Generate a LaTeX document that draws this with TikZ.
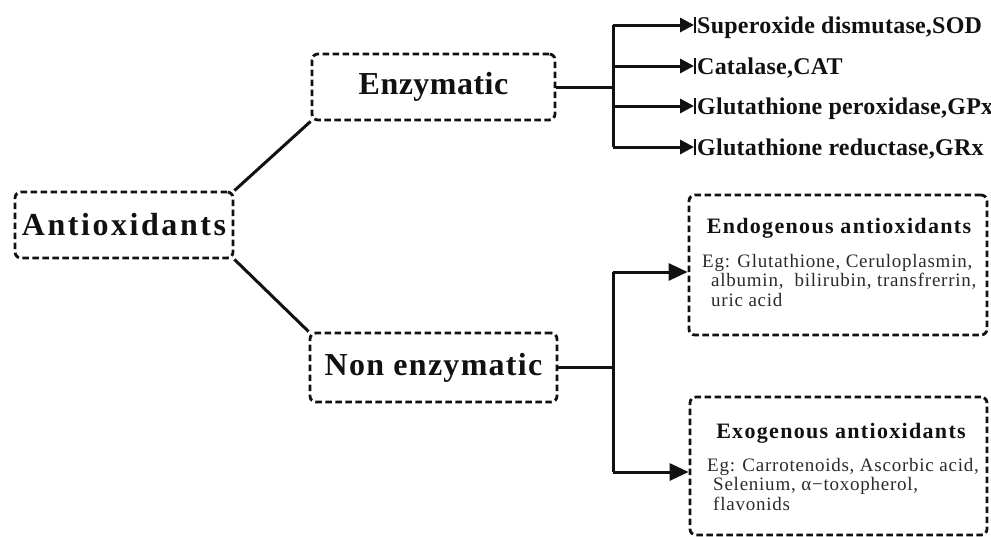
\documentclass[tikz,border=0pt]{standalone}
\usepackage{fontspec}
\setmainfont{Liberation Serif}
\newfontfamily\bigfont[LetterSpace=4]{Liberation Serif}
\newfontfamily\antifont[LetterSpace=8]{Liberation Serif}
\newfontfamily\enzfont[LetterSpace=1.5]{Liberation Serif}
\newfontfamily\listfont[LetterSpace=1]{Liberation Serif}
\newfontfamily\subfont[LetterSpace=6]{Liberation Serif}
\newfontfamily\bodyfont[LetterSpace=4]{Liberation Serif}
\usetikzlibrary{arrows.meta}
\definecolor{ink}{HTML}{111111}
\definecolor{bodyink}{HTML}{2A2A2A}
\begin{document}
\begin{tikzpicture}[x=1pt,y=-1pt,
  dbox/.style={draw=ink, line width=2.8pt, dash pattern=on 6.5pt off 3.5pt, rounded corners=6pt, inner sep=0pt},
  conn/.style={draw=ink, line width=3pt},
  tri/.style={conn, -{Triangle[length=19pt,width=17pt]}},
  smalltri/.style={conn, -{Triangle[length=14pt,width=14pt]}},
  barline/.style={draw=ink, line width=2.6pt},
  item/.style={anchor=west, inner sep=0pt, text height=22pt, text depth=6pt, text=ink,
    font=\listfont\fontsize{24}{28}\selectfont\bfseries},
  subtitle/.style={anchor=base, inner sep=0pt, text=ink,
    font=\subfont\fontsize{22}{26}\selectfont\bfseries},
  bodyline/.style={anchor=base west, inner sep=0pt, text=bodyink,
    font=\bodyfont\fontsize{19}{19.5}\selectfont}
]
\useasboundingbox (0,0) rectangle (991,536);

% main boxes
\node[dbox, minimum width=218pt, minimum height=66pt, text=ink] (anti) at (124,225)
  {\antifont\fontsize{32}{36}\selectfont\bfseries Antioxidants};
\node[dbox, minimum width=243pt, minimum height=66pt, text=ink] (enz) at (433.5,87)
  {\enzfont\fontsize{32}{36}\selectfont\bfseries Enzymatic};
\node[dbox, minimum width=247pt, minimum height=69pt, text=ink] (non) at (433.5,367.5)
  {\bigfont\fontsize{32}{36}\selectfont\bfseries Non enzymatic};

\draw[conn] (anti.north east) -- (enz.south west);
\draw[conn] (anti.south east) -- (non.north west);

% enzymatic list
\node[item] (sod) at (697,25) {Superoxide dismutase,SOD};
\node[item] (cat) at (697,66) {Catalase,CAT};
\node[item] (gpx) at (697,106) {Glutathione peroxidase,GPx};
\node[item] (grx) at (697,147) {Glutathione reductase,GRx};

\coordinate (t1) at (613,87);
\draw[conn] (enz.east) -- (t1);
\draw[conn] (t1 |- sod.west) -- (t1 |- grx.west);
\foreach \n in {sod,cat,gpx,grx}{
  \draw[smalltri] (t1 |- \n.west) -- ([xshift=-3pt]\n.west);
  \draw[barline] ([xshift=-2pt,yshift=-8pt]\n.west) -- ([xshift=-2pt,yshift=8pt]\n.west);
}

% non-enzymatic boxes
\node[dbox, minimum width=298pt, minimum height=140pt] (endo) at (838,265) {};
\node[dbox, minimum width=297pt, minimum height=138pt] (exo) at (838.5,466) {};

\node[subtitle] (endot) at (839,233) {Endogenous antioxidants};
\node[bodyline] (endo1) at (702,267) {Eg: Glutathione, Ceruloplasmin,};
\node[bodyline] (endo2) at (711,286.5) {albumin,\ \ bilirubin, transfrerrin,};
\node[bodyline] (endo3) at (711,306) {uric acid};

\node[subtitle] (exot) at (841,438) {Exogenous antioxidants};
\node[bodyline] (exo1) at (707,471) {Eg: Carrotenoids, Ascorbic acid,};
\node[bodyline] (exo2) at (713,490.5) {Selenium, α−toxopherol,};
\node[bodyline] (exo3) at (713,510) {flavonids};

\coordinate (t2) at (613,367.5);
\coordinate (a1) at (613,272);
\coordinate (a2) at (613,472);
\draw[conn] (non.east) -- (t2);
\draw[conn] (a1) -- (a2);
\draw[tri] (a1) -- (endo.west |- a1);
\draw[tri] (a2) -- (exo.west |- a2);
\end{tikzpicture}
\end{document}
